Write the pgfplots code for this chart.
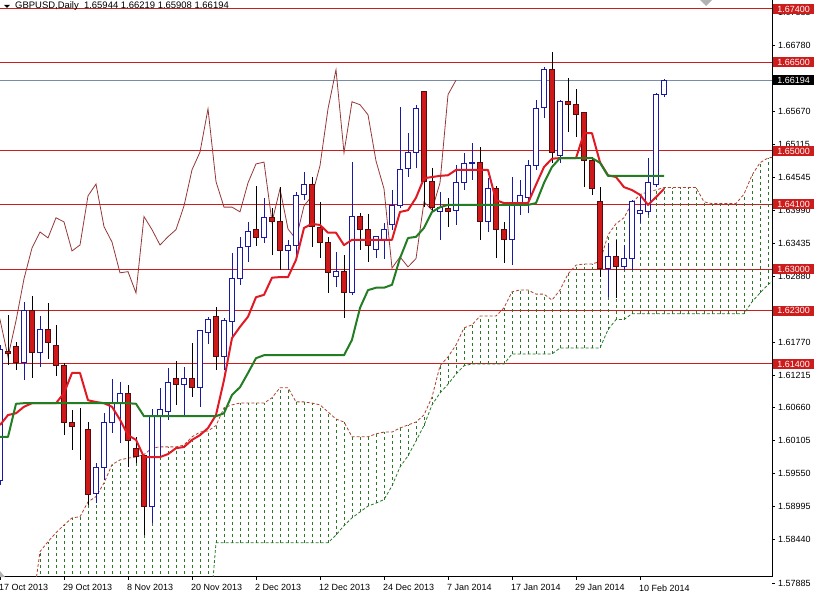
\documentclass[border=0pt]{standalone}
\usepackage{fontspec}
\setmainfont{Liberation Sans}
\usepackage{pgfplots}
\usepackage{pgfplotstable}
\pgfplotsset{compat=1.18}

\definecolor{hline}{RGB}{205,28,28}
\definecolor{bullc}{RGB}{25,25,165}
\definecolor{bearf}{RGB}{205,25,25}
\definecolor{bearo}{RGB}{90,10,10}
\definecolor{tenkan}{RGB}{225,25,35}
\definecolor{kijun}{RGB}{35,125,35}
\definecolor{chikou}{RGB}{150,55,55}
\definecolor{spanA}{RGB}{175,65,45}
\definecolor{spanB}{RGB}{40,120,40}
\definecolor{cloudc}{RGB}{40,120,40}
\definecolor{pline}{RGB}{120,140,165}

% i open high low close bull(1)/bear(0)
\pgfplotstableread{
i o h l c t
0 1.5944 1.6172 1.5936 1.6164 1
1 1.6161 1.6223 1.6139 1.6157 0
2 1.6169 1.6177 1.6130 1.6142 0
3 1.6142 1.6245 1.6113 1.6231 1
4 1.6231 1.6255 1.6117 1.6159 0
5 1.6159 1.6221 1.6135 1.6198 1
6 1.6198 1.6243 1.6149 1.6176 0
7 1.6172 1.6206 1.6120 1.6137 0
8 1.6137 1.6142 1.6020 1.6042 0
9 1.6042 1.6063 1.5995 1.6034 0
10 1.6032 1.6066 1.5978 1.6032 0
11 1.6030 1.6042 1.5902 1.5919 0
12 1.5922 1.5973 1.5905 1.5965 1
13 1.5965 1.6057 1.5944 1.6041 1
14 1.6041 1.6115 1.6024 1.6074 1
15 1.6074 1.6110 1.6007 1.6091 1
16 1.6091 1.6105 1.5966 1.6010 0
17 1.5997 1.6017 1.5973 1.5983 0
18 1.5985 1.5987 1.5851 1.5899 0
19 1.5900 1.6064 1.5872 1.6051 1
20 1.6051 1.6100 1.5983 1.6063 1
21 1.6059 1.6133 1.6046 1.6108 1
22 1.6115 1.6145 1.6071 1.6106 0
23 1.6106 1.6135 1.6054 1.6115 1
24 1.6115 1.6176 1.6084 1.6101 0
25 1.6101 1.6196 1.6068 1.6196 1
26 1.6194 1.6220 1.6174 1.6215 1
27 1.6221 1.6237 1.6130 1.6152 0
28 1.6152 1.6218 1.6130 1.6213 1
29 1.6211 1.6328 1.6186 1.6284 1
30 1.6284 1.6355 1.6274 1.6336 1
31 1.6338 1.6380 1.6313 1.6363 1
32 1.6367 1.6441 1.6340 1.6353 0
33 1.6353 1.6421 1.6345 1.6387 1
34 1.6387 1.6404 1.6324 1.6380 0
35 1.6380 1.6439 1.6299 1.6331 0
36 1.6331 1.6350 1.6299 1.6341 1
37 1.6341 1.6431 1.6321 1.6424 1
38 1.6427 1.6465 1.6417 1.6444 1
39 1.6443 1.6456 1.6338 1.6372 0
40 1.6370 1.6414 1.6319 1.6346 0
41 1.6346 1.6355 1.6260 1.6294 0
42 1.6287 1.6329 1.6270 1.6296 1
43 1.6296 1.6324 1.6218 1.6260 0
44 1.6260 1.6481 1.6257 1.6389 1
45 1.6389 1.6395 1.6333 1.6367 0
46 1.6367 1.6394 1.6313 1.6341 0
47 1.6333 1.6355 1.6319 1.6355 1
48 1.6350 1.6378 1.6318 1.6367 1
49 1.6375 1.6434 1.6367 1.6407 1
50 1.6407 1.6574 1.6404 1.6468 1
51 1.6471 1.6530 1.6456 1.6498 1
52 1.6498 1.6578 1.6471 1.6571 1
53 1.6600 1.6600 1.6405 1.6448 0
54 1.6448 1.6471 1.6397 1.6405 0
55 1.6397 1.6431 1.6350 1.6405 1
56 1.6402 1.6421 1.6372 1.6397 0
57 1.6400 1.6476 1.6375 1.6446 1
58 1.6446 1.6497 1.6434 1.6478 1
59 1.6478 1.6514 1.6451 1.6481 1
60 1.6481 1.6507 1.6350 1.6380 0
61 1.6380 1.6454 1.6363 1.6436 1
62 1.6436 1.6441 1.6319 1.6368 0
63 1.6368 1.6380 1.6311 1.6351 0
64 1.6351 1.6456 1.6307 1.6407 1
65 1.6412 1.6451 1.6392 1.6424 1
66 1.6422 1.6485 1.6395 1.6475 1
67 1.6475 1.6586 1.6468 1.6571 1
68 1.6573 1.6642 1.6556 1.6637 1
69 1.6637 1.6667 1.6480 1.6497 0
70 1.6492 1.6586 1.6480 1.6583 1
71 1.6583 1.6623 1.6532 1.6578 0
72 1.6578 1.6605 1.6524 1.6561 0
73 1.6564 1.6564 1.6439 1.6483 0
74 1.6483 1.6490 1.6426 1.6436 0
75 1.6414 1.6439 1.6287 1.6302 0
76 1.6302 1.6345 1.6253 1.6321 1
77 1.6321 1.6350 1.6252 1.6304 0
78 1.6304 1.6341 1.6299 1.6318 1
79 1.6319 1.6417 1.6299 1.6414 1
80 1.6395 1.6426 1.6378 1.6400 1
81 1.6397 1.6488 1.6392 1.6446 1
82 1.6444 1.6598 1.6439 1.6595 1
83 1.65944 1.66219 1.65908 1.66194 1
}\ohlc

% Tenkan-sen and Kijun-sen
\pgfplotstableread{
i tk kj
0 1.6037 1.6017
1 1.6054 1.6017
2 1.6057 1.6073
3 1.6068 1.6074
4 1.6074 1.6074
5 1.6074 1.6074
6 1.6074 1.6074
7 1.6074 1.6074
8 1.6091 1.6074
9 1.6125 1.6074
10 1.6125 1.6074
11 1.6079 1.6074
12 1.6076 1.6074
13 1.6074 1.6074
14 1.6068 1.6074
15 1.6046 1.6074
16 1.6020 1.6074
17 1.6012 1.6073
18 1.5983 1.6052
19 1.5983 1.6052
20 1.5983 1.6052
21 1.5988 1.6052
22 1.5998 1.6052
23 1.6000 1.6052
24 1.6012 1.6052
25 1.6020 1.6052
26 1.6032 1.6052
27 1.6054 1.6052
28 1.6113 1.6057
29 1.6184 1.6088
30 1.6203 1.6101
31 1.6220 1.6125
32 1.6253 1.6150
33 1.6257 1.6155
34 1.6286 1.6155
35 1.6287 1.6155
36 1.6287 1.6155
37 1.6316 1.6155
38 1.6370 1.6155
39 1.6377 1.6155
40 1.6375 1.6155
41 1.6362 1.6155
42 1.6362 1.6155
43 1.6341 1.6155
44 1.6350 1.6181
45 1.6350 1.6235
46 1.6350 1.6265
47 1.6350 1.6269
48 1.6350 1.6269
49 1.6350 1.6274
50 1.6397 1.6319
51 1.6400 1.6353
52 1.6421 1.6355
53 1.6454 1.6370
54 1.6456 1.6397
55 1.6458 1.6405
56 1.6459 1.6409
57 1.6468 1.6409
58 1.6468 1.6409
59 1.6468 1.6409
60 1.6468 1.6409
61 1.6468 1.6409
62 1.6417 1.6409
63 1.6412 1.6409
64 1.6412 1.6409
65 1.6412 1.6409
66 1.6412 1.6409
67 1.6443 1.6412
68 1.6473 1.6446
69 1.6487 1.6473
70 1.6488 1.6488
71 1.6488 1.6488
72 1.6488 1.6488
73 1.6530 1.6488
74 1.6530 1.6488
75 1.6481 1.6480
76 1.6459 1.6458
77 1.6456 1.6458
78 1.6439 1.6458
79 1.6434 1.6458
80 1.6426 1.6458
81 1.6409 1.6458
82 1.6422 1.6458
83 1.6436 1.6458
}\tkkj

% Senkou span A (a) and B (b)
\pgfplotstableread{
i a b
0 1.5708 1.5674
1 1.5708 1.5674
2 1.5708 1.5674
3 1.5708 1.5674
4 1.5725 1.5674
5 1.5823 1.5674
6 1.5840 1.5674
7 1.5855 1.5674
8 1.5868 1.5674
9 1.5880 1.5674
10 1.5882 1.5674
11 1.5907 1.5674
12 1.5916 1.5674
13 1.5939 1.5674
14 1.5970 1.5674
15 1.5978 1.5674
16 1.5981 1.5674
17 1.5983 1.5674
18 1.5987 1.5674
19 1.5998 1.5674
20 1.6000 1.5674
21 1.6000 1.5674
22 1.6000 1.5674
23 1.6003 1.5674
24 1.6017 1.5674
25 1.6025 1.5674
26 1.6027 1.5674
27 1.6036 1.5838
28 1.6066 1.5838
29 1.6071 1.5838
30 1.6074 1.5838
31 1.6074 1.5838
32 1.6074 1.5838
33 1.6074 1.5838
34 1.6083 1.5838
35 1.6100 1.5838
36 1.6100 1.5838
37 1.6076 1.5838
38 1.6076 1.5838
39 1.6074 1.5838
40 1.6071 1.5838
41 1.6059 1.5838
42 1.6047 1.5851
43 1.6042 1.5867
44 1.6017 1.5880
45 1.6017 1.5890
46 1.6017 1.5900
47 1.6022 1.5905
48 1.6025 1.5911
49 1.6025 1.5934
50 1.6032 1.5966
51 1.6037 1.5985
52 1.6042 1.6010
53 1.6054 1.6036
54 1.6084 1.6071
55 1.6137 1.6091
56 1.6152 1.6106
57 1.6172 1.6123
58 1.6201 1.6137
59 1.6206 1.6140
60 1.6221 1.6140
61 1.6221 1.6140
62 1.6221 1.6140
63 1.6235 1.6140
64 1.6262 1.6157
65 1.6265 1.6157
66 1.6265 1.6157
67 1.6258 1.6157
68 1.6258 1.6157
69 1.6248 1.6157
70 1.6265 1.6167
71 1.6292 1.6167
72 1.6307 1.6167
73 1.6309 1.6167
74 1.6309 1.6167
75 1.6313 1.6167
76 1.6358 1.6198
77 1.6377 1.6215
78 1.6387 1.6215
79 1.6412 1.6225
80 1.6426 1.6225
81 1.6431 1.6225
82 1.6434 1.6225
83 1.6438 1.6225
84 1.6438 1.6225
85 1.6438 1.6225
86 1.6438 1.6225
87 1.6438 1.6225
88 1.6414 1.6225
89 1.6411 1.6225
90 1.6411 1.6225
91 1.6411 1.6225
92 1.6411 1.6225
93 1.6427 1.6225
94 1.6459 1.6245
95 1.6480 1.6260
96 1.6488 1.6274
97 1.6490 1.6285
}\cloud

\pgfplotsset{
  base/.style={
    scale only axis, width=772bp, height=577bp,
    at={(0bp,0bp)}, anchor=south west,
    xmin=0, xmax=96.5, ymin=1.578041, ymax=1.675507,
  },
  hidden/.style={base, hide axis},
  nomark/.style={only marks, mark=*, mark size=0pt, mark options={draw=none, fill=none}},
}

\begin{document}
\begin{tikzpicture}[font=\fontsize{9}{10}\selectfont]
\useasboundingbox (0bp,-17bp) rectangle (814bp,577bp);

% ---------- background layer: levels, cloud, spans, chikou, wicks, ticks
\begin{axis}[base,
  axis x line=bottom, axis y line=right,
  axis line style={-, black, line width=1bp},
  tick align=outside, major tick length=3bp,
  tick style={black, line width=0.8bp},
  xtick={0,8,16,24,32,40,48,56,64,72,80},
  xticklabels={17 Oct 2013,29 Oct 2013,8 Nov 2013,20 Nov 2013,2 Dec 2013,12 Dec 2013,24 Dec 2013,7 Jan 2014,17 Jan 2014,29 Jan 2014,10 Feb 2014},
  xticklabel style={anchor=west, inner sep=0pt, xshift=-1bp, yshift=-8bp},
  ytick={1.58440,1.58995,1.59550,1.60105,1.60660,1.61215,1.61770,1.62880,1.63435,1.63990,1.64545,1.65115,1.65670,1.66780,1.67335},
  yticklabels={1.58440,1.58995,1.59550,1.60105,1.60660,1.61215,1.61770,1.62880,1.63435,1.63990,1.64545,1.65115,1.65670,1.66780,1.67335},
  yticklabel style={anchor=west, inner sep=0pt, xshift=3bp},
]
\pgfplotsinvokeforeach{1.674,1.665,1.650,1.641,1.630,1.623,1.614}{
  \addplot[hline, line width=1bp, forget plot] coordinates {(0,#1) (96.5,#1)};
}
\addplot[pline, line width=1bp] coordinates {(0,1.66194) (96.5,1.66194)};
% cloud hatching
\addplot[nomark, error bars/.cd, y dir=plus, y explicit, error mark=none,
  error bar style={cloudc, line width=0.8bp, dash pattern=on 3bp off 3bp}]
  table[x=i, y=b, y error plus expr=\thisrow{a}-\thisrow{b}] {\cloud};
\addplot[spanA, line width=0.8bp, dash pattern=on 3bp off 2bp] table[x=i, y=a] {\cloud};
\addplot[spanB, line width=0.8bp, dash pattern=on 3bp off 2bp] table[x=i, y=b] {\cloud};
% chikou span
\addplot[chikou, line width=0.8bp] table[x expr=\thisrow{i}-26, y=c] {\ohlc};
% wicks
\addplot[nomark, error bars/.cd, y dir=plus, y explicit, error mark=none,
  error bar style={bullc, line width=1bp}]
  table[x=i, y expr=\thisrow{l}*\thisrow{t}, y error plus expr=(\thisrow{h}-\thisrow{l})*\thisrow{t}] {\ohlc};
\addplot[nomark, error bars/.cd, y dir=plus, y explicit, error mark=none,
  error bar style={black, line width=1bp}]
  table[x=i, y expr=\thisrow{l}*(1-\thisrow{t}), y error plus expr=(\thisrow{h}-\thisrow{l})*(1-\thisrow{t})] {\ohlc};
\coordinate (b1) at (axis cs:96.5,1.674);
\coordinate (b2) at (axis cs:96.5,1.665);
\coordinate (b3) at (axis cs:96.5,1.650);
\coordinate (b4) at (axis cs:96.5,1.641);
\coordinate (b5) at (axis cs:96.5,1.630);
\coordinate (b6) at (axis cs:96.5,1.623);
\coordinate (b7) at (axis cs:96.5,1.614);
\coordinate (bp) at (axis cs:96.5,1.66194);
\end{axis}

% ---------- bullish bodies
\begin{axis}[hidden, ybar stacked, bar width=5bp]
\addplot[draw=none, fill=none] table[x=i, y expr=\thisrow{o}*\thisrow{t}] {\ohlc};
\addplot[draw=bullc, fill=white, line width=1bp] table[x=i, y expr=(\thisrow{c}-\thisrow{o})*\thisrow{t}] {\ohlc};
\end{axis}

% ---------- bearish bodies
\begin{axis}[hidden, ybar stacked, bar width=5bp]
\addplot[draw=none, fill=none] table[x=i, y expr=\thisrow{c}*(1-\thisrow{t})] {\ohlc};
\addplot[draw=bearo, fill=bearf, line width=1bp] table[x=i, y expr=(\thisrow{o}-\thisrow{c})*(1-\thisrow{t})] {\ohlc};
\end{axis}

% ---------- Tenkan / Kijun
\begin{axis}[hidden]
\addplot[tenkan, line width=2bp, line join=round] table[x=i, y=tk] {\tkkj};
\addplot[kijun, line width=2bp, line join=round] table[x=i, y=kj] {\tkkj};
\end{axis}

% price boxes
\foreach \n/\t in {b1/1.67400,b2/1.66500,b3/1.65000,b4/1.64100,b5/1.63000,b6/1.62300,b7/1.61400}{
  \node[fill=hline, text=white, anchor=west, inner sep=0pt, minimum width=41bp, minimum height=10bp] at ([xshift=1bp]\n) {\t};
}
\node[fill=black, text=white, anchor=west, inner sep=0pt, minimum width=41bp, minimum height=10bp] at ([xshift=1bp]bp) {1.66194};
% lowest price label (set below the frame, as in the terminal)
\draw[black, line width=0.8bp] (772bp,-6bp) -- (775bp,-6bp);
\node[anchor=west, inner sep=0pt] at (778bp,-6bp) {1.57885};
% corner markers
\fill[gray!60] (700bp,577bp) -- (712bp,577bp) -- (706bp,571bp) -- cycle;
\fill[gray!60] (0bp,0bp) -- (5bp,0bp) -- (0bp,6bp) -- cycle;
% title
\fill[black] (4bp,572bp) -- (10bp,572bp) -- (7bp,569bp) -- cycle;
\node[anchor=west, inner sep=0pt, font=\fontsize{9.5}{10}\selectfont] at (15bp,570.5bp) {GBPUSD,Daily\ \ 1.65944 1.66219 1.65908 1.66194};
\end{tikzpicture}
\end{document}
